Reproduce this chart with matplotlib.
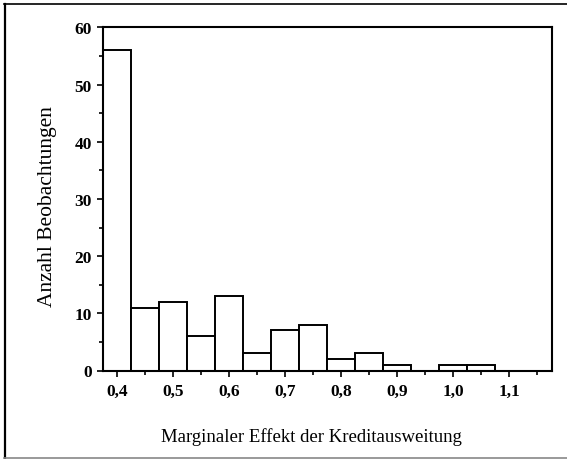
import matplotlib
matplotlib.use("Agg")
import matplotlib.pyplot as plt
from matplotlib.ticker import MultipleLocator, FuncFormatter
from matplotlib.lines import Line2D

plt.rcParams['font.family'] = ['Liberation Serif', 'DejaVu Serif']

bin_centers = [0.40, 0.45, 0.50, 0.55, 0.60, 0.65, 0.70, 0.75, 0.80, 0.85, 0.90, 1.00, 1.05, 1.10]
counts      = [56,   11,   12,   6,    13,   3,    7,    8,    2,    3,    1,    1,    1,    0]
bin_width = 0.05
x_ticks = [0.4, 0.5, 0.6, 0.7, 0.8, 0.9, 1.0, 1.1]
y_ticks = [0, 10, 20, 30, 40, 50, 60]
x_label = "Marginaler Effekt der Kreditausweitung"
y_label = "Anzahl Beobachtungen"

W, H = 567, 460
fig = plt.figure(figsize=(W / 100, H / 100), dpi=100)
ax = fig.add_axes([103 / W, 1 - 371.5 / H, (551.7 - 103) / W, (371.5 - 28.3) / H])

ax.bar(bin_centers, counts, width=bin_width, facecolor='white', edgecolor='black', linewidth=1.4)
ax.set_xlim(0.375, 1.176)
ax.set_ylim(0, 60)

ax.set_xticks(x_ticks)
ax.xaxis.set_minor_locator(MultipleLocator(0.05))
ax.set_yticks(y_ticks)
ax.yaxis.set_minor_locator(MultipleLocator(5))
ax.xaxis.set_major_formatter(FuncFormatter(lambda v, p: f"{v:.1f}".replace('.', ',')))
ax.yaxis.set_major_formatter(FuncFormatter(lambda v, p: f"{int(round(v))}"))

ax.tick_params(axis='both', which='major', direction='out', length=4, width=1.2,
               labelsize=12.5, colors='black')
ax.tick_params(axis='both', which='minor', direction='out', length=3, width=1.2)
ax.tick_params(axis='x', which='major', pad=5)
ax.tick_params(axis='y', which='major', pad=4)
for lbl in ax.get_xticklabels() + ax.get_yticklabels():
    lbl.set_fontweight('bold')
for s in ax.spines.values():
    s.set_linewidth(1.5)

fig.text(48 / W, 1 - 207 / H, y_label, rotation=90, ha='center', va='center', fontsize=15.5)
fig.text(311 / W, 1 - 437 / H, x_label, ha='center', va='center', fontsize=13.5)

# outer scan frame (top, left, bottom; no right side)
fig.lines.append(Line2D([4 / W, 1.0], [1 - 4.5 / H, 1 - 4.5 / H], transform=fig.transFigure,
                        color='black', linewidth=1.2))
fig.lines.append(Line2D([4.5 / W, 4.5 / W], [0, 1 - 4.5 / H], transform=fig.transFigure,
                        color='black', linewidth=1.6))
fig.lines.append(Line2D([4 / W, 1.0], [1.2 / H, 1.2 / H], transform=fig.transFigure,
                        color='#888888', linewidth=1.2))

fig.savefig("out.png", dpi=100, facecolor='white')
